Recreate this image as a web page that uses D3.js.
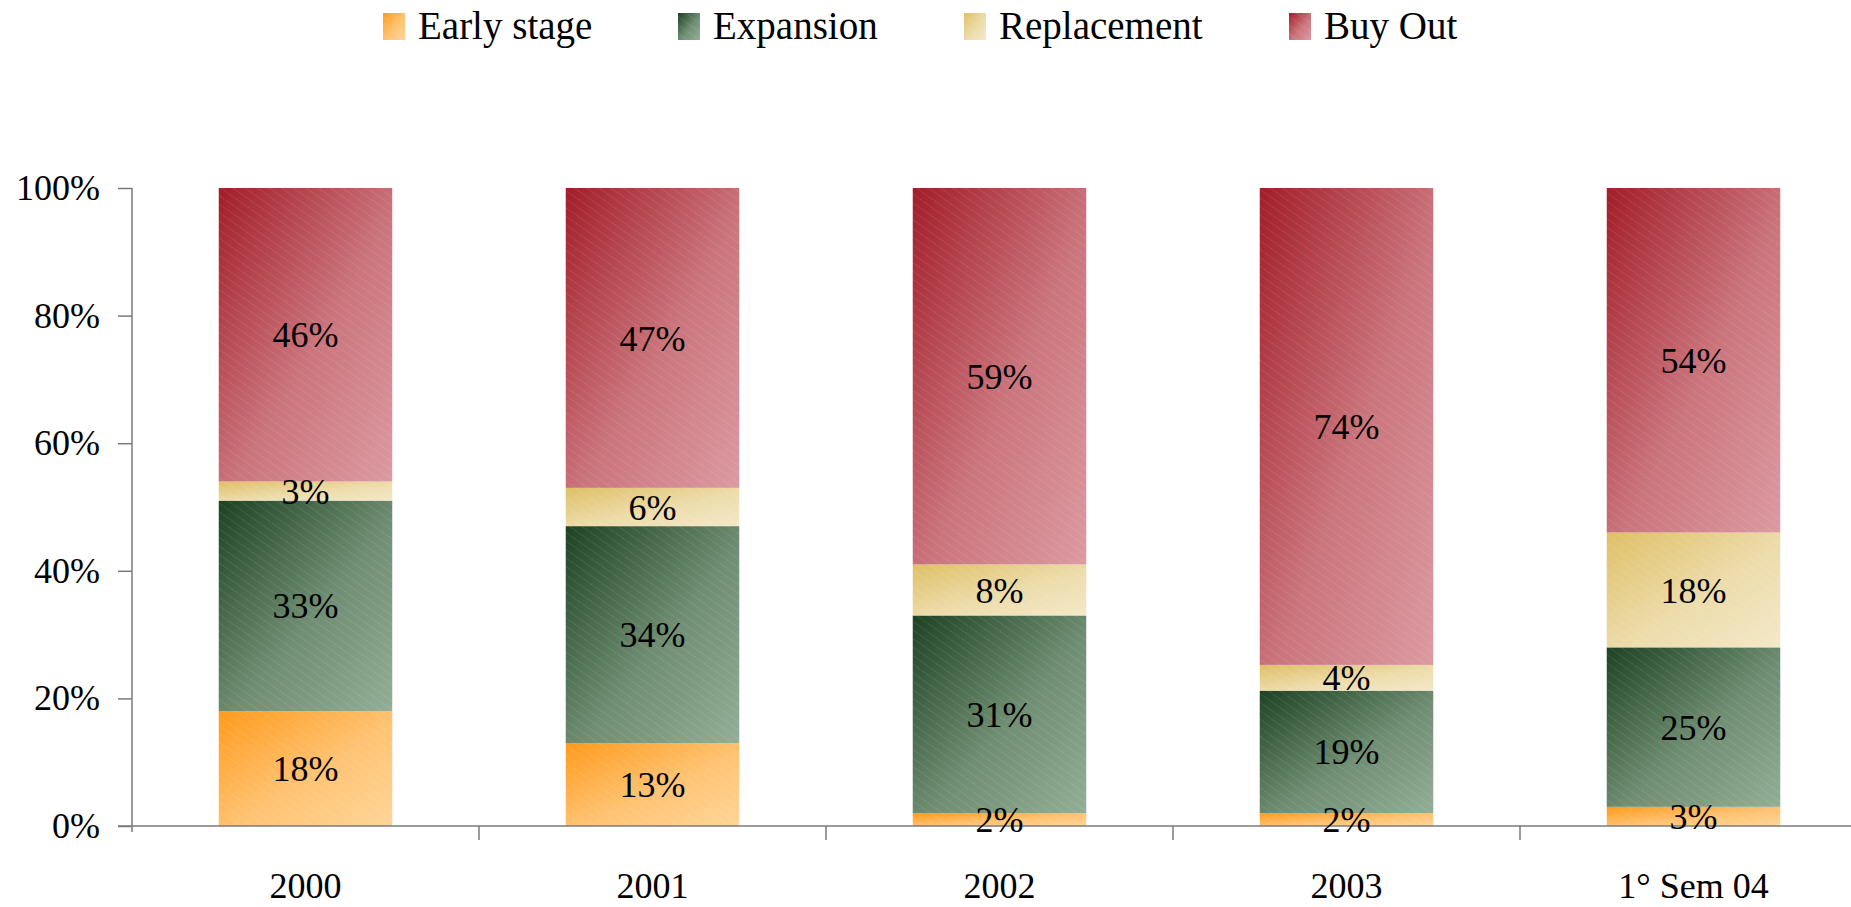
<!DOCTYPE html>
<html>
<head>
<meta charset="utf-8">
<script src="https://cdn.jsdelivr.net/npm/d3@7"></script>
<style>
  html, body { margin: 0; padding: 0; background: #fff; }
  svg { display: block; }
  text { font-family: "Liberation Serif", "Times New Roman", serif; fill: #000; }
</style>
</head>
<body>
<svg id="chart" width="1851" height="907"></svg>
<script>
// ---- data ----
const categories = ["2000", "2001", "2002", "2003", "1° Sem 04"];
const seriesNames = ["Early stage", "Expansion", "Replacement", "Buy Out"];
const earlyStage  = [18, 13, 2, 2, 3];
const expansion   = [33, 34, 31, 19, 25];
const replacement = [3, 6, 8, 4, 18];
const buyOut      = [46, 47, 59, 74, 54];
const yTicks = [0, 0.2, 0.4, 0.6, 0.8, 1.0];

// ---- style ----
const gradStops = {
  "Early stage": ["#ff9a1c", "#ffd598"],
  "Expansion":   ["#1d4222", "#93ae96"],
  "Replacement": ["#dfc067", "#f3e8c8"],
  "Buy Out":     ["#a21d28", "#dc9aa1"]
};

const rows = categories.map((c, i) => ({
  category: c,
  "Early stage": earlyStage[i],
  "Expansion": expansion[i],
  "Replacement": replacement[i],
  "Buy Out": buyOut[i]
}));

const svg = d3.select("#chart");
const W = 1851, H = 907;
const plotLeft = 132, y0 = 826, y1 = 188, step = 347;

const x = d3.scaleBand()
  .domain(categories)
  .range([plotLeft, plotLeft + step * categories.length])
  .paddingInner(0.5)
  .paddingOuter(0.25);

const y = d3.scaleLinear().domain([0, 1]).range([y0, y1]);

const stack = d3.stack().keys(seriesNames).offset(d3.stackOffsetExpand);
const stacked = stack(rows);

// ---- defs: gradients and hatch patterns ----
const defs = svg.append("defs");
const slug = s => s.replace(/\s+/g, "_");
seriesNames.forEach(name => {
  const g = defs.append("linearGradient")
    .attr("id", "grad_" + slug(name))
    .attr("x1", 0).attr("y1", 0).attr("x2", 1).attr("y2", 1);
  g.append("stop").attr("offset", "0%").attr("stop-color", gradStops[name][0]);
  g.append("stop").attr("offset", "55%").attr("stop-color", d3.interpolateRgb(gradStops[name][0], gradStops[name][1])(0.7));
  g.append("stop").attr("offset", "100%").attr("stop-color", gradStops[name][1]);
});
const hatch = defs.append("pattern")
  .attr("id", "hatch")
  .attr("patternUnits", "userSpaceOnUse")
  .attr("width", 7).attr("height", 7)
  .attr("patternTransform", "rotate(-55)");
hatch.append("line")
  .attr("x1", 0).attr("y1", 0).attr("x2", 0).attr("y2", 7)
  .attr("stroke", "#ffffff").attr("stroke-width", 1.6).attr("stroke-opacity", 0.16)
  .attr("stroke-dasharray", "1.5,1");

// ---- bars ----
const layers = svg.append("g").attr("class", "bars")
  .selectAll("g.layer")
  .data(stacked)
  .join("g")
  .attr("class", "layer");

layers.selectAll("rect.seg")
  .data(d => d.map(v => ({ key: d.key, v })))
  .join("rect")
  .attr("class", "seg")
  .attr("x", d => x(d.v.data.category))
  .attr("width", x.bandwidth())
  .attr("y", d => y(d.v[1]))
  .attr("height", d => y(d.v[0]) - y(d.v[1]))
  .attr("fill", d => `url(#grad_${slug(d.key)})`);

layers.selectAll("rect.hatch")
  .data(d => d.map(v => ({ key: d.key, v })))
  .join("rect")
  .attr("class", "hatch")
  .attr("x", d => x(d.v.data.category))
  .attr("width", x.bandwidth())
  .attr("y", d => y(d.v[1]))
  .attr("height", d => y(d.v[0]) - y(d.v[1]))
  .attr("fill", "url(#hatch)");

// ---- y axis ----
const axisColor = "#7a7a7a";
const yAxis = svg.append("g")
  .attr("transform", `translate(${plotLeft},0)`)
  .call(d3.axisLeft(y).tickValues(yTicks).tickFormat(d3.format(".0%")).tickSize(14).tickPadding(18));
yAxis.select(".domain").attr("stroke", axisColor).attr("stroke-width", 1.5)
  .attr("d", `M0,${y1}V${y0 + 6}`);
yAxis.selectAll(".tick line").attr("stroke", axisColor).attr("stroke-width", 1.5);
yAxis.selectAll(".tick text")
  .style("font-family", '"Liberation Serif", serif')
  .style("font-size", "36px").attr("fill", "#000");

// ---- x axis ----
const xAxisG = svg.append("g").attr("transform", `translate(0,${y0})`);
xAxisG.append("line")
  .attr("x1", plotLeft - 14).attr("x2", W + 10)
  .attr("y1", 0).attr("y2", 0)
  .attr("stroke", axisColor).attr("stroke-width", 1.5);
// band boundary ticks
xAxisG.selectAll("line.btick")
  .data(categories.slice(1))
  .join("line")
  .attr("class", "btick")
  .attr("x1", c => x(c) - (x.step() - x.bandwidth()) / 2)
  .attr("x2", c => x(c) - (x.step() - x.bandwidth()) / 2)
  .attr("y1", 0).attr("y2", 14)
  .attr("stroke", axisColor).attr("stroke-width", 1.5);
xAxisG.selectAll("text.cat")
  .data(categories)
  .join("text")
  .attr("class", "cat")
  .attr("x", c => x(c) + x.bandwidth() / 2)
  .attr("y", 72)
  .attr("text-anchor", "middle")
  .style("font-size", "36px")
  .text(c => c);

// ---- data labels ----
svg.append("g").selectAll("g")
  .data(stacked)
  .join("g")
  .selectAll("text")
  .data((d, si) => d.map((v, i) => ({ v, raw: [earlyStage, expansion, replacement, buyOut][si][i] })))
  .join("text")
  .attr("x", d => x(d.v.data.category) + x.bandwidth() / 2)
  .attr("y", d => (y(d.v[0]) + y(d.v[1])) / 2)
  .attr("dy", "0.35em")
  .attr("text-anchor", "middle")
  .style("font-size", "36px")
  .text(d => d.raw + "%");

// ---- legend ----
const legendX = [383, 678, 964, 1289];
const legend = svg.append("g").selectAll("g")
  .data(seriesNames)
  .join("g")
  .attr("transform", (d, i) => `translate(${legendX[i]},0)`);
legend.append("rect")
  .attr("x", 0).attr("y", 13).attr("width", 22).attr("height", 27)
  .attr("fill", d => `url(#grad_${slug(d)})`);
legend.append("rect")
  .attr("x", 0).attr("y", 13).attr("width", 22).attr("height", 27)
  .attr("fill", "url(#hatch)");
legend.append("text")
  .attr("x", 35).attr("y", 39)
  .style("font-size", "39px")
  .text(d => d);
</script>
</body>
</html>
